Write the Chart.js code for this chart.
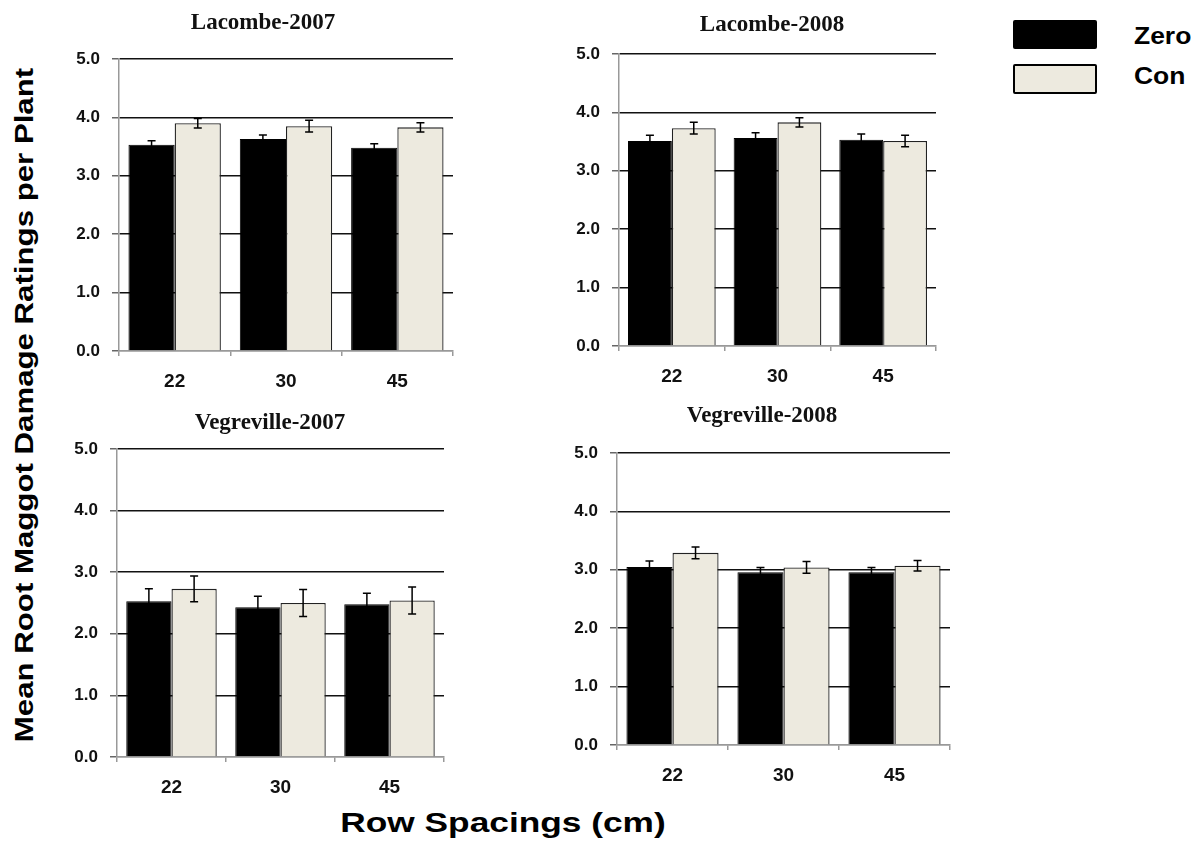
<!DOCTYPE html>
<html>
<head>
<meta charset="utf-8">
<script src="https://cdn.jsdelivr.net/npm/chart.js@4.4.0/dist/chart.umd.min.js"></script>
<style>
    html, body { margin: 0; padding: 0; background: #fff; }
    #page { position: relative; width: 1198px; height: 852px; overflow: hidden; font-family: "Liberation Sans", Arial, sans-serif; }
    canvas { position: absolute; }
    .big-label { position: absolute; font-weight: bold; white-space: nowrap; color: #000; }
    .legend-box { position: absolute; box-sizing: border-box; border-radius: 2px; }
</style>
</head>
<body>
<div id="page">
    <div class="big-label" id="yTitle" style="left:24px; top:405px; font-size:26px; line-height:26px; transform: translate(-50%,-50%) rotate(-90deg) scaleX(1.2);">Mean Root Maggot Damage Ratings per Plant</div>
    <div class="big-label" id="xTitle" style="left:503px; top:823px; font-size:28px; line-height:28px; transform: translate(-50%,-50%) scaleX(1.26);">Row Spacings (cm)</div>

    <div class="legend-box" style="left:1013px; top:20px; width:84px; height:29px; background:#000;"></div>
    <div class="big-label" style="left:1134px; top:25px; font-size:23px; line-height:23px; transform-origin: left center; transform: scaleX(1.15);">Zero</div>
    <div class="legend-box" style="left:1013px; top:64px; width:84px; height:30px; background:#edeadf; border:2px solid #000;"></div>
    <div class="big-label" style="left:1134px; top:65px; font-size:23px; line-height:23px; transform-origin: left center; transform: scaleX(1.15);">Con</div>
</div>

<script>
// row spacings (cm) on the x axis
const spacings = ['22', '30', '45'];
const panelTitles = ['Lacombe-2007', 'Lacombe-2008', 'Vegreville-2007', 'Vegreville-2008'];
const seriesNames = ['Zero', 'Con'];

// mean damage ratings and their error bars
const lac07Zero = [3.53, 3.63, 3.48];
const lac07Con = [3.90, 3.85, 3.83];
const lac07ZeroSe = [0.07, 0.07, 0.07];
const lac07ConSe = [0.08, 0.10, 0.08];

const lac08Zero = [3.51, 3.56, 3.53];
const lac08Con = [3.73, 3.83, 3.51];
const lac08ZeroSe = [0.10, 0.09, 0.10];
const lac08ConSe = [0.10, 0.08, 0.10];

const veg07Zero = [2.53, 2.43, 2.48];
const veg07Con = [2.73, 2.50, 2.54];
const veg07ZeroSe = [0.20, 0.18, 0.18];
const veg07ConSe = [0.21, 0.22, 0.22];

const veg08Zero = [3.05, 2.96, 2.96];
const veg08Con = [3.29, 3.04, 3.07];
const veg08ZeroSe = [0.10, 0.08, 0.08];
const veg08ConSe = [0.10, 0.10, 0.09];

const yMin = 0;
const yMax = 5;
const yStep = 1;

const panelData = [
    [lac07Zero, lac07Con, lac07ZeroSe, lac07ConSe],
    [lac08Zero, lac08Con, lac08ZeroSe, lac08ConSe],
    [veg07Zero, veg07Con, veg07ZeroSe, veg07ConSe],
    [veg08Zero, veg08Con, veg08ZeroSe, veg08ConSe]
];

// where each plot area sits on the page
const panelBoxes = [
    { left: 119, top: 59, right: 453, bottom: 351, titleX: 263, titleY: 29 },
    { left: 619, top: 54, right: 936, bottom: 346, titleX: 772, titleY: 31 },
    { left: 117, top: 449, right: 444, bottom: 757, titleX: 270, titleY: 429 },
    { left: 617, top: 453, right: 950, bottom: 745, titleX: 762, titleY: 422 }
];

const ZERO_COLOR = '#000000';
const CON_COLOR = '#edeadf';
const Y_AXIS_W = 60;
const X_AXIS_H = 45;

// draws the +/- error whiskers on top of each bar
const errorBars = {
    id: 'errorBars',
    afterDatasetsDraw(chart) {
        const ctx = chart.ctx;
        const yScale = chart.scales.y;
        ctx.save();
        ctx.strokeStyle = '#000';
        ctx.lineWidth = 1.5;
        chart.data.datasets.forEach((ds, i) => {
            const meta = chart.getDatasetMeta(i);
            meta.data.forEach((bar, j) => {
                const v = ds.data[j];
                const e = ds.errors[j];
                const yTop = yScale.getPixelForValue(v + e);
                const yBot = yScale.getPixelForValue(v - e);
                const x = bar.x;
                ctx.beginPath();
                ctx.moveTo(x, yTop); ctx.lineTo(x, yBot);
                ctx.moveTo(x - 4, yTop); ctx.lineTo(x + 4, yTop);
                ctx.moveTo(x - 4, yBot); ctx.lineTo(x + 4, yBot);
                ctx.stroke();
            });
        });
        ctx.restore();
    }
};

// panel title, placed where the original has it (not centred on the canvas)
const panelTitle = {
    id: 'panelTitle',
    afterDraw(chart, args, opts) {
        const ctx = chart.ctx;
        ctx.save();
        ctx.font = 'bold 23px "Liberation Serif", "Times New Roman", serif';
        ctx.fillStyle = '#111';
        ctx.textAlign = 'center';
        ctx.textBaseline = 'alphabetic';
        ctx.fillText(opts.text, opts.x, opts.y);
        ctx.restore();
    }
};

const page = document.getElementById('page');

panelBoxes.forEach((box, p) => {
    const [zero, con, zeroSe, conSe] = panelData[p];
    const canvasLeft = box.left - Y_AXIS_W;
    const canvasTop = box.titleY - 25;
    const width = box.right + 4 - canvasLeft;
    const height = box.bottom + X_AXIS_H - canvasTop;

    const canvas = document.createElement('canvas');
    canvas.width = width;
    canvas.height = height;
    canvas.style.left = canvasLeft + 'px';
    canvas.style.top = canvasTop + 'px';
    canvas.style.width = width + 'px';
    canvas.style.height = height + 'px';
    page.appendChild(canvas);

    new Chart(canvas.getContext('2d'), {
        type: 'bar',
        data: {
            labels: spacings,
            datasets: [
                {
                    label: seriesNames[0],
                    data: zero,
                    errors: zeroSe,
                    backgroundColor: ZERO_COLOR,
                    borderColor: '#000',
                    borderWidth: 1
                },
                {
                    label: seriesNames[1],
                    data: con,
                    errors: conSe,
                    backgroundColor: CON_COLOR,
                    borderColor: '#222',
                    borderWidth: 1.3
                }
            ]
        },
        options: {
            responsive: false,
            animation: false,
            devicePixelRatio: 1,
            layout: { padding: { top: box.top - canvasTop, right: 4, bottom: 0, left: 0 } },
            datasets: { bar: { barPercentage: 1, categoryPercentage: 0.83 } },
            plugins: {
                legend: { display: false },
                tooltip: { enabled: false },
                title: { display: false },
                panelTitle: { text: panelTitles[p], x: box.titleX - canvasLeft, y: box.titleY - canvasTop }
            },
            scales: {
                x: {
                    afterFit: (scale) => { scale.height = X_AXIS_H; },
                    grid: { drawOnChartArea: false, tickLength: 5, tickColor: '#999', lineWidth: 1.5 },
                    border: { color: '#999', width: 1.5 },
                    ticks: {
                        padding: 14,
                        color: '#111',
                        font: { family: '"Liberation Sans", Arial, sans-serif', size: 19, weight: 'bold' }
                    }
                },
                y: {
                    min: yMin,
                    max: yMax,
                    afterFit: (scale) => { scale.width = Y_AXIS_W; },
                    grid: {
                        color: (c) => (c.tick && c.tick.value === 0 ? '#999' : '#111'),
                        lineWidth: 1.5,
                        tickLength: 7,
                        tickColor: '#666'
                    },
                    border: { color: '#999', width: 1.5 },
                    ticks: {
                        stepSize: yStep,
                        padding: 12,
                        color: '#111',
                        font: { family: '"Liberation Sans", Arial, sans-serif', size: 17, weight: 'bold' },
                        callback: (v) => Number(v).toFixed(1)
                    }
                }
            }
        },
        plugins: [errorBars, panelTitle]
    });
});
</script>
</body>
</html>
